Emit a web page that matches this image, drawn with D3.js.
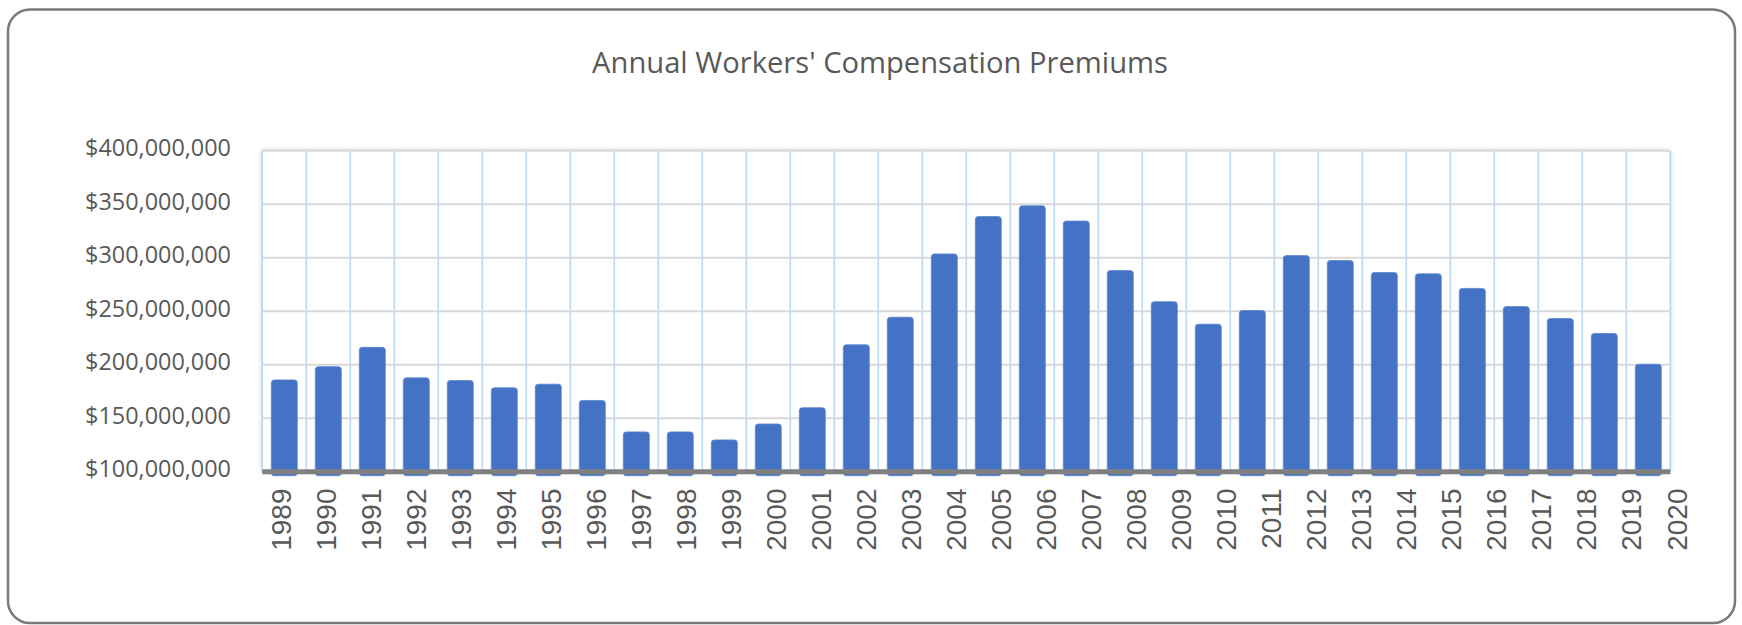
<!DOCTYPE html>
<html>
<head>
<meta charset="utf-8">
<script src="https://cdn.jsdelivr.net/npm/d3@7"></script>
<style>
  html, body { margin: 0; padding: 0; background: #ffffff; }
  svg { display: block; }
</style>
</head>
<body>
<svg id="chart" width="1742" height="625"></svg>
<script>
// ---- data ----
const title = "Annual Workers' Compensation Premiums";
const years = ["1989","1990","1991","1992","1993","1994","1995","1996","1997","1998",
  "1999","2000","2001","2002","2003","2004","2005","2006","2007","2008",
  "2009","2010","2011","2012","2013","2014","2015","2016","2017","2018",
  "2019","2020"];
const premiums = [185800000, 198200000, 216200000, 187700000, 185200000, 178400000,
  181800000, 166600000, 137200000, 137200000, 129700000, 144600000, 159800000,
  218600000, 244400000, 303500000, 338500000, 348500000, 334200000, 288000000,
  258900000, 237900000, 250600000, 302000000, 297300000, 286200000, 284900000,
  271300000, 254300000, 243100000, 229200000, 200400000];
const yTicks = [100000000, 150000000, 200000000, 250000000, 300000000, 350000000, 400000000];

// ---- layout ----
const W = 1742, H = 625;
const plot = { left: 262.3, right: 1670.3, top: 150.7, bottom: 471.7 };

const svg = d3.select("#chart");

// outer rounded border
svg.append("rect")
  .attr("x", 8).attr("y", 9.5).attr("width", 1727).attr("height", 613.5)
  .attr("rx", 22).attr("ry", 22)
  .attr("fill", "#ffffff").attr("stroke", "#7a7a7a").attr("stroke-width", 2.5);

// shadow filter
const defs = svg.append("defs");
const f = defs.append("filter").attr("id", "shadow")
  .attr("x", "-5%").attr("y", "-10%").attr("width", "110%").attr("height", "120%");
f.append("feDropShadow").attr("dx", 0).attr("dy", 0).attr("stdDeviation", 2.2)
  .attr("flood-color", "#000").attr("flood-opacity", 0.28);

// scales
const x = d3.scaleBand().domain(years).range([plot.left, plot.right]).padding(0);
const y = d3.scaleLinear().domain([100000000, 400000000]).range([plot.bottom, plot.top]);
const xLab = d3.scalePoint().domain(years).range([281.7, 1677]);

// plot background with shadow
svg.append("rect")
  .attr("x", plot.left).attr("y", plot.top)
  .attr("width", plot.right - plot.left).attr("height", plot.bottom - plot.top)
  .attr("fill", "#ffffff").attr("filter", "url(#shadow)");

// vertical gridlines (category boundaries)
const vgrid = svg.append("g");
years.forEach((yr) => {
  const xx = x(yr);
  vgrid.append("line")
    .attr("x1", xx).attr("x2", xx).attr("y1", plot.top).attr("y2", plot.bottom)
    .attr("stroke", "#bcd6ee").attr("stroke-width", 1.5);
});
vgrid.append("line")
  .attr("x1", plot.right).attr("x2", plot.right).attr("y1", plot.top).attr("y2", plot.bottom)
  .attr("stroke", "#bcd6ee").attr("stroke-width", 1.5);

// horizontal gridlines
svg.append("g").selectAll("line")
  .data(yTicks.slice(1))
  .join("line")
  .attr("x1", plot.left).attr("x2", plot.right)
  .attr("y1", d => y(d)).attr("y2", d => y(d))
  .attr("stroke", "#d9d9d9").attr("stroke-width", 2);

// y axis labels
const fmt = d => "$" + d3.format(",")(d);
const yl = svg.append("g").selectAll("text")
  .data(yTicks)
  .join("text")
  .attr("x", 231)
  .attr("y", d => y(d) - 3.5)
  .attr("text-anchor", "end")
  .attr("dominant-baseline", "central")
  .attr("font-family", "'Open Sans', 'DejaVu Sans', sans-serif")
  .attr("font-size", 23.5)
  .attr("fill", "#595959")
  .text(fmt);
// fit label width to the reference (~146px for "$400,000,000")
{
  const node = yl.nodes()[yl.nodes().length - 1];
  const w = node.getComputedTextLength();
  if (w > 0) yl.attr("font-size", 23.5 * 146 / w);
}

// bars
const barW = 26;
svg.append("g").selectAll("rect")
  .data(years.map((yr, i) => ({ yr, v: premiums[i] })))
  .join("rect")
  .attr("x", d => x(d.yr) + x.bandwidth() / 2 - barW / 2)
  .attr("y", d => y(d.v))
  .attr("width", barW)
  .attr("height", d => y(100000000) + 4 - y(d.v))
  .attr("rx", 3).attr("ry", 3)
  .attr("fill", "#4472c4")
  .attr("stroke", "#5b85cf").attr("stroke-width", 0.8);

// baseline axis
svg.append("line")
  .attr("x1", plot.left).attr("x2", plot.right)
  .attr("y1", y(100000000)).attr("y2", y(100000000))
  .attr("stroke", "#808080").attr("stroke-width", 5);

// x labels (rotated)
svg.append("g").selectAll("text")
  .data(years)
  .join("text")
  .attr("transform", d => `translate(${xLab(d)},488.5) rotate(-90)`)
  .attr("text-anchor", "end")
  .attr("dominant-baseline", "central")
  .attr("font-family", "'Liberation Sans Narrow', 'Liberation Sans', Arial, sans-serif")
  .attr("font-size", 28)
  .attr("fill", "#595959")
  .text(d => d);

// title
const t = svg.append("text")
  .attr("x", 880).attr("y", 73)
  .attr("text-anchor", "middle")
  .attr("font-family", "'Open Sans', 'DejaVu Sans', sans-serif")
  .attr("font-size", 28)
  .attr("fill", "#595959")
  .text(title);
{
  const w = t.node().getComputedTextLength();
  if (w > 0) t.attr("font-size", 28 * 576 / w);
}
</script>
</body>
</html>
